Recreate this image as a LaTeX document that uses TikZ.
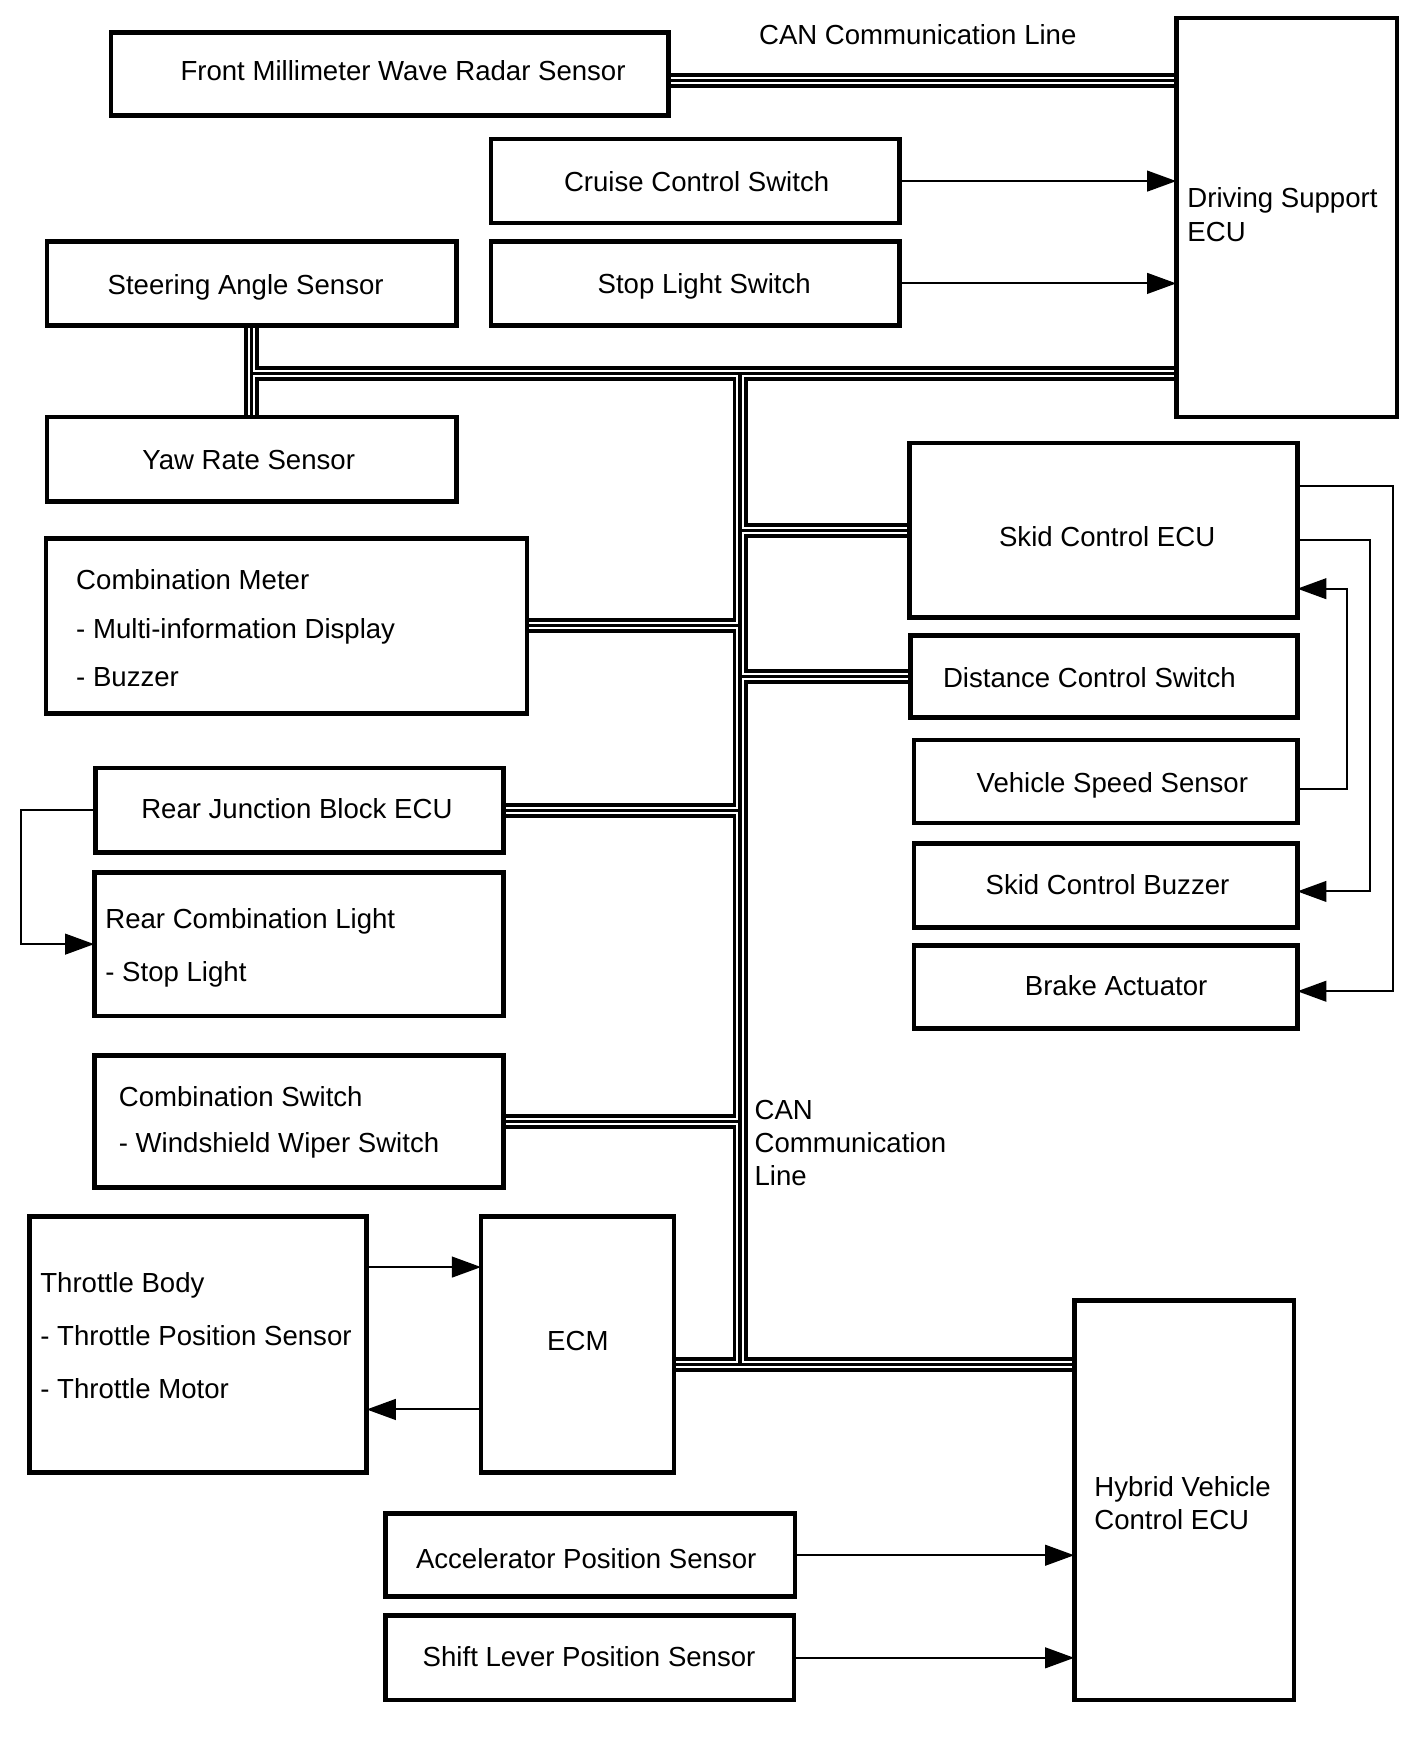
\documentclass[tikz,border=0pt]{standalone}
\usepackage{fontspec}
\setmainfont{Liberation Sans}
\usetikzlibrary{arrows.meta}
\tikzset{
  box/.style={draw, line width=4.2pt, rectangle, inner sep=0pt, outer sep=0pt},
  txt/.style={anchor=base west, inner sep=0pt, outer sep=0pt, font=\fontsize{24.6pt}{29.5pt}\selectfont},
  arr/.style={line width=1.8pt, -{Triangle[length=26pt,width=18.5pt]}},
}
\newcommand{\mybox}[5]{\node[box, minimum width={(#4)-(#2)}, minimum height={(#5)-(#3)}] (#1) at ({((#2)+(#4))/2},{((#3)+(#5))/2}) {};}
\begin{document}
\begin{tikzpicture}[x=1pt,y=-1pt]
\fill[white] (0,0) rectangle (1270,1572.3);
\useasboundingbox (0,0) rectangle (1270,1572.3);

% boxes (positions)
\mybox{radar}{99}{29}{596}{103}
\mybox{dsecu}{1049}{16}{1246}{372}
\mybox{cruise}{438}{124}{802}{199}
\mybox{stopsw}{438}{215.5}{802}{290}
\mybox{steer}{42}{215.5}{407}{290}
\mybox{yaw}{42}{372}{407}{447}
\mybox{cmeter}{41}{480}{470}{636}
\mybox{rjb}{85}{685}{449}{760}
\mybox{rcl}{84}{778}{449}{906}
\mybox{cswitch}{84}{941}{449}{1059}
\mybox{thr}{26}{1085}{327}{1313}
\mybox{ecm}{429}{1085}{601}{1313}
\mybox{skid}{811}{395}{1157}{551}
\mybox{dist}{812}{567}{1157}{640}
\mybox{vss}{815}{660}{1157}{734}
\mybox{buzz}{815}{752}{1157}{827}
\mybox{brake}{815}{843}{1157}{917}
\mybox{hv}{958}{1160}{1154}{1516}
\mybox{accel}{344}{1350}{709}{1424}
\mybox{shiftlever}{344}{1441}{708}{1516}

% CAN bus
\coordinate (jT) at (660,333);
\coordinate (jB) at (660,1217);
\coordinate (rb1) at ([yshift=-5.5pt]radar.east);
\foreach \w/\c in {13.4/black,6.4/white,2.8/black}{
  \draw[line width=\w pt, color=\c]
    (rb1) -- (rb1 -| dsecu.west)
    (steer.south) -- (yaw.north)
    (steer.south |- jT) -- (dsecu.west |- jT)
    (jT) -- (jB)
    (ecm.east |- jB) -- (hv.west |- jB)
    (skid.west) -- (skid.west -| jT)
    (dist.west) -- (dist.west -| jT)
    (cmeter.east) -- (cmeter.east -| jT)
    (rjb.east) -- (rjb.east -| jT)
    (cswitch.east) -- (cswitch.east -| jT);
}

% redraw boxes on top of bus ends
\foreach \n in {radar,dsecu,steer,yaw,cmeter,rjb,cswitch,ecm,skid,dist,hv}{
  \draw[line width=4.2pt] (\n.north west) rectangle (\n.south east);
}

% signal arrows
\draw[arr] (cruise.east) -- (cruise.east -| dsecu.west);
\draw[arr] (stopsw.east) -- (stopsw.east -| dsecu.west);
\draw[arr] (rjb.west) -- ++(-66,0) |- (rcl.west);
\coordinate (tA) at ([yshift=69pt]thr.east);
\draw[arr] (tA) -- (tA -| ecm.west);
\coordinate (tB) at ([yshift=-58pt]ecm.west);
\draw[arr] (tB) -- (tB -| thr.east);
\draw[arr] (accel.east) -- (accel.east -| hv.west);
\draw[arr] (shiftlever.east) -- (shiftlever.east -| hv.west);
\coordinate (vA) at ([yshift=-7pt]vss.east);
\coordinate (sA) at ([yshift=-52pt]skid.east);
\draw[arr] (vA) -- ++(44,0) |- (sA);
\coordinate (sB) at ([yshift=-9pt]skid.east);
\coordinate (bB) at ([yshift=-5.5pt]buzz.east);
\draw[arr] (sB) -- ++(65,0) |- (bB);
\coordinate (sC) at ([yshift=40pt]skid.east);
\coordinate (aC) at ([yshift=-4pt]brake.east);
\draw[arr] (sC) -- ++(85,0) |- (aC);

% texts
\node[txt] (t1) at (161,72) {Front Millimeter Wave Radar Sensor};
\node[txt] (t2) at (677,40) {CAN Communication Line};
\node[txt] (t3a) at (1059,185) {Driving Support};
\node[txt] (t3b) at (1059,215) {ECU};
\node[txt] (t4) at (503,171) {Cruise Control Switch};
\node[txt] (t5) at (533,262) {Stop Light Switch};
\node[txt] (t6) at (96,263) {Steering Angle Sensor};
\node[txt] (t7) at (127,419) {Yaw Rate Sensor};
\node[txt] (t8a) at (68,526) {Combination Meter};
\node[txt] (t8b) at (68,569) {- Multi-information Display};
\node[txt] (t8c) at (68,612) {- Buzzer};
\node[txt] (t9) at (126,730) {Rear Junction Block ECU};
\node[txt] (t10a) at (94,828) {Rear Combination Light};
\node[txt] (t10b) at (94,875) {- Stop Light};
\node[txt] (t11a) at (106,987) {Combination Switch};
\node[txt] (t11b) at (106,1028) {- Windshield Wiper Switch};
\node[txt] (t12a) at (36,1153) {Throttle Body};
\node[txt] (t12b) at (36,1200) {- Throttle Position Sensor};
\node[txt] (t12c) at (36,1247) {- Throttle Motor};
\node[txt] (t13) at (488,1204) {ECM};
\node[txt] (t14) at (891,487) {Skid Control ECU};
\node[txt] (t15) at (841,613) {Distance Control Switch};
\node[txt] (t16) at (871,707) {Vehicle Speed Sensor};
\node[txt] (t17) at (879,798) {Skid Control Buzzer};
\node[txt] (t18) at (914,888) {Brake Actuator};
\node[txt] (t19a) at (976,1335) {Hybrid Vehicle};
\node[txt] (t19b) at (976,1364) {Control ECU};
\node[txt] (t20) at (371,1399) {Accelerator Position Sensor};
\node[txt] (t21) at (377,1486) {Shift Lever Position Sensor};
\node[txt] (t22a) at (673,998) {CAN};
\node[txt] (t22b) at (673,1028) {Communication};
\node[txt] (t22c) at (673,1057) {Line};
\end{tikzpicture}
\end{document}
